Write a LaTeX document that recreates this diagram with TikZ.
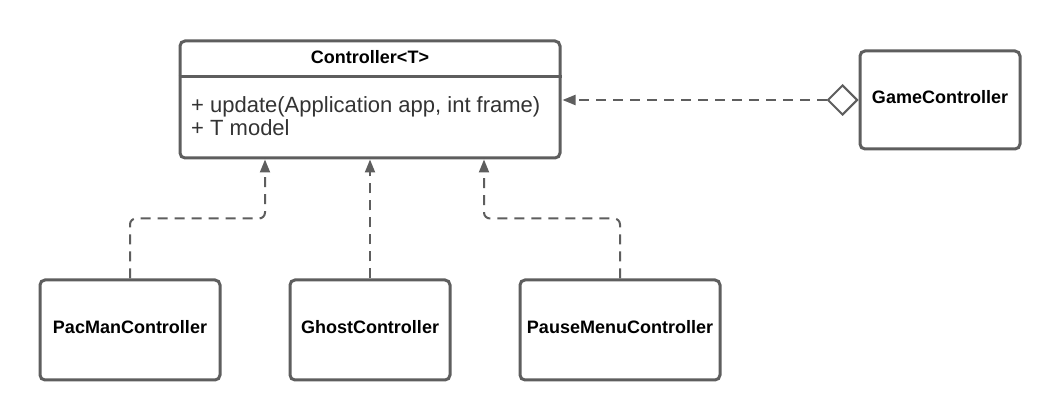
\documentclass[tikz,border=0pt]{standalone}
\usepackage{fontspec}
\setmainfont{Liberation Sans}
\usetikzlibrary{arrows.meta,shapes.geometric}
\definecolor{ln}{HTML}{5E5E5E}
\definecolor{tx}{HTML}{333333}
\begin{document}
\begin{tikzpicture}[x=1pt,y=-1pt,
 box/.style={draw=ln,line width=3pt,rounded corners=5pt,fill=white,inner sep=0pt},
 lbl/.style={font=\fontsize{18}{20}\selectfont\bfseries,text=black,text depth=5.5pt},
 body/.style={font=\fontsize{22}{24}\selectfont,text=tx,inner sep=0pt,anchor=base west},
 dep/.style={draw=ln,line width=2pt,dash pattern=on 10pt off 7pt,-{Triangle[length=13pt,width=10pt]}},
]
\useasboundingbox[fill=white] (0,0) rectangle (1060,419);
% Controller class
\node[box,minimum width=380pt,minimum height=117pt] (ctrl) at (370,99.5) {};
\node[lbl,text depth=0pt] (hdr) at (370,57) {Controller<T>};
\draw[ln,line width=3pt] (ctrl.west |- 0,77) -- (ctrl.east |- 0,77);
\node[body] (m1) at (191,112.5) {+ update(Application app, int frame)};
\node[body] (m2) at (191,136) {+ T model};
% GameController
\node[box,lbl,minimum width=160pt,minimum height=98pt] (game) at (940,100) {GameController};
\node[diamond,aspect=1,draw=ln,line width=2pt,fill=white,minimum width=30pt,minimum height=30pt,inner sep=0pt,anchor=east] (dia) at (game.west) {};
\draw[dep,shorten >=1pt] (dia.west) -- (ctrl.east |- dia.west);
% subclasses
\node[box,lbl,minimum width=180pt,minimum height=100pt] (pac) at (130,330) {PacManController};
\node[box,lbl,minimum width=160pt,minimum height=100pt] (ghost) at (370,330) {GhostController};
\node[box,lbl,minimum width=200pt,minimum height=100pt] (pause) at (620,330) {PauseMenuController};
\draw[dep,rounded corners=6pt] (pac.north) -- ++(0,-60) -| ([xshift=-105pt]ctrl.south);
\draw[dep] (ghost.north) -- (ghost.north |- ctrl.south);
\draw[dep,rounded corners=6pt] (pause.north) -- ++(0,-60) -| ([xshift=114pt]ctrl.south);
\end{tikzpicture}
\end{document}
